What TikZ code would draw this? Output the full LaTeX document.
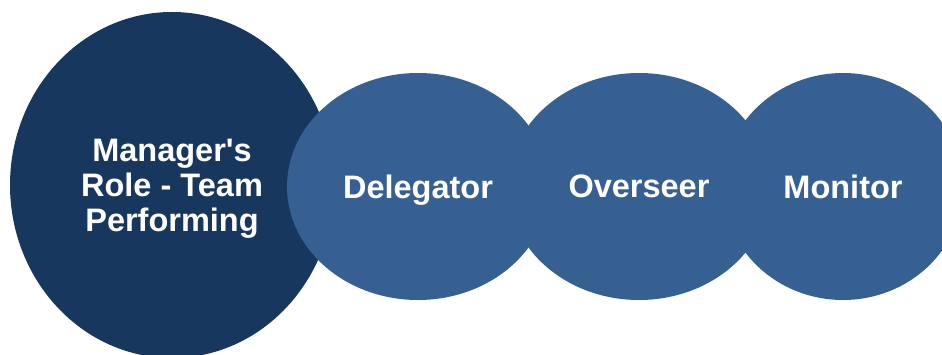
\documentclass[tikz,border=0pt]{standalone}
\usepackage{fontspec}
\setmainfont{Liberation Sans}
\usetikzlibrary{shapes.geometric}

\definecolor{darknavy}{HTML}{17375E}
\definecolor{steelblue}{HTML}{376092}

\begin{document}
\begin{tikzpicture}[x=1pt, y=-1pt,
    rolebubble/.style={ellipse, fill=steelblue, inner sep=0pt,
        minimum width=262pt, minimum height=227pt, text depth=0pt,
        text=white, font=\bfseries\fontsize{32.5}{35}\selectfont, align=center},
    mainbubble/.style={rolebubble, fill=darknavy,
        minimum width=324pt, minimum height=346pt}]
    \clip (0,0) rectangle (942,355);

    % Main role
    \node[mainbubble] (manager) at (172,185) {Manager\textquotesingle s\\Role - Team\\Performing};

    % Sub roles, left to right
    \node[rolebubble] (delegator) at (418,186.5) {Delegator};
    \node[rolebubble] (overseer) at (639,186.5) {Overseer};
    \node[rolebubble, minimum width=240pt] (monitor) at (843,186.5) {Monitor};
\end{tikzpicture}
\end{document}
